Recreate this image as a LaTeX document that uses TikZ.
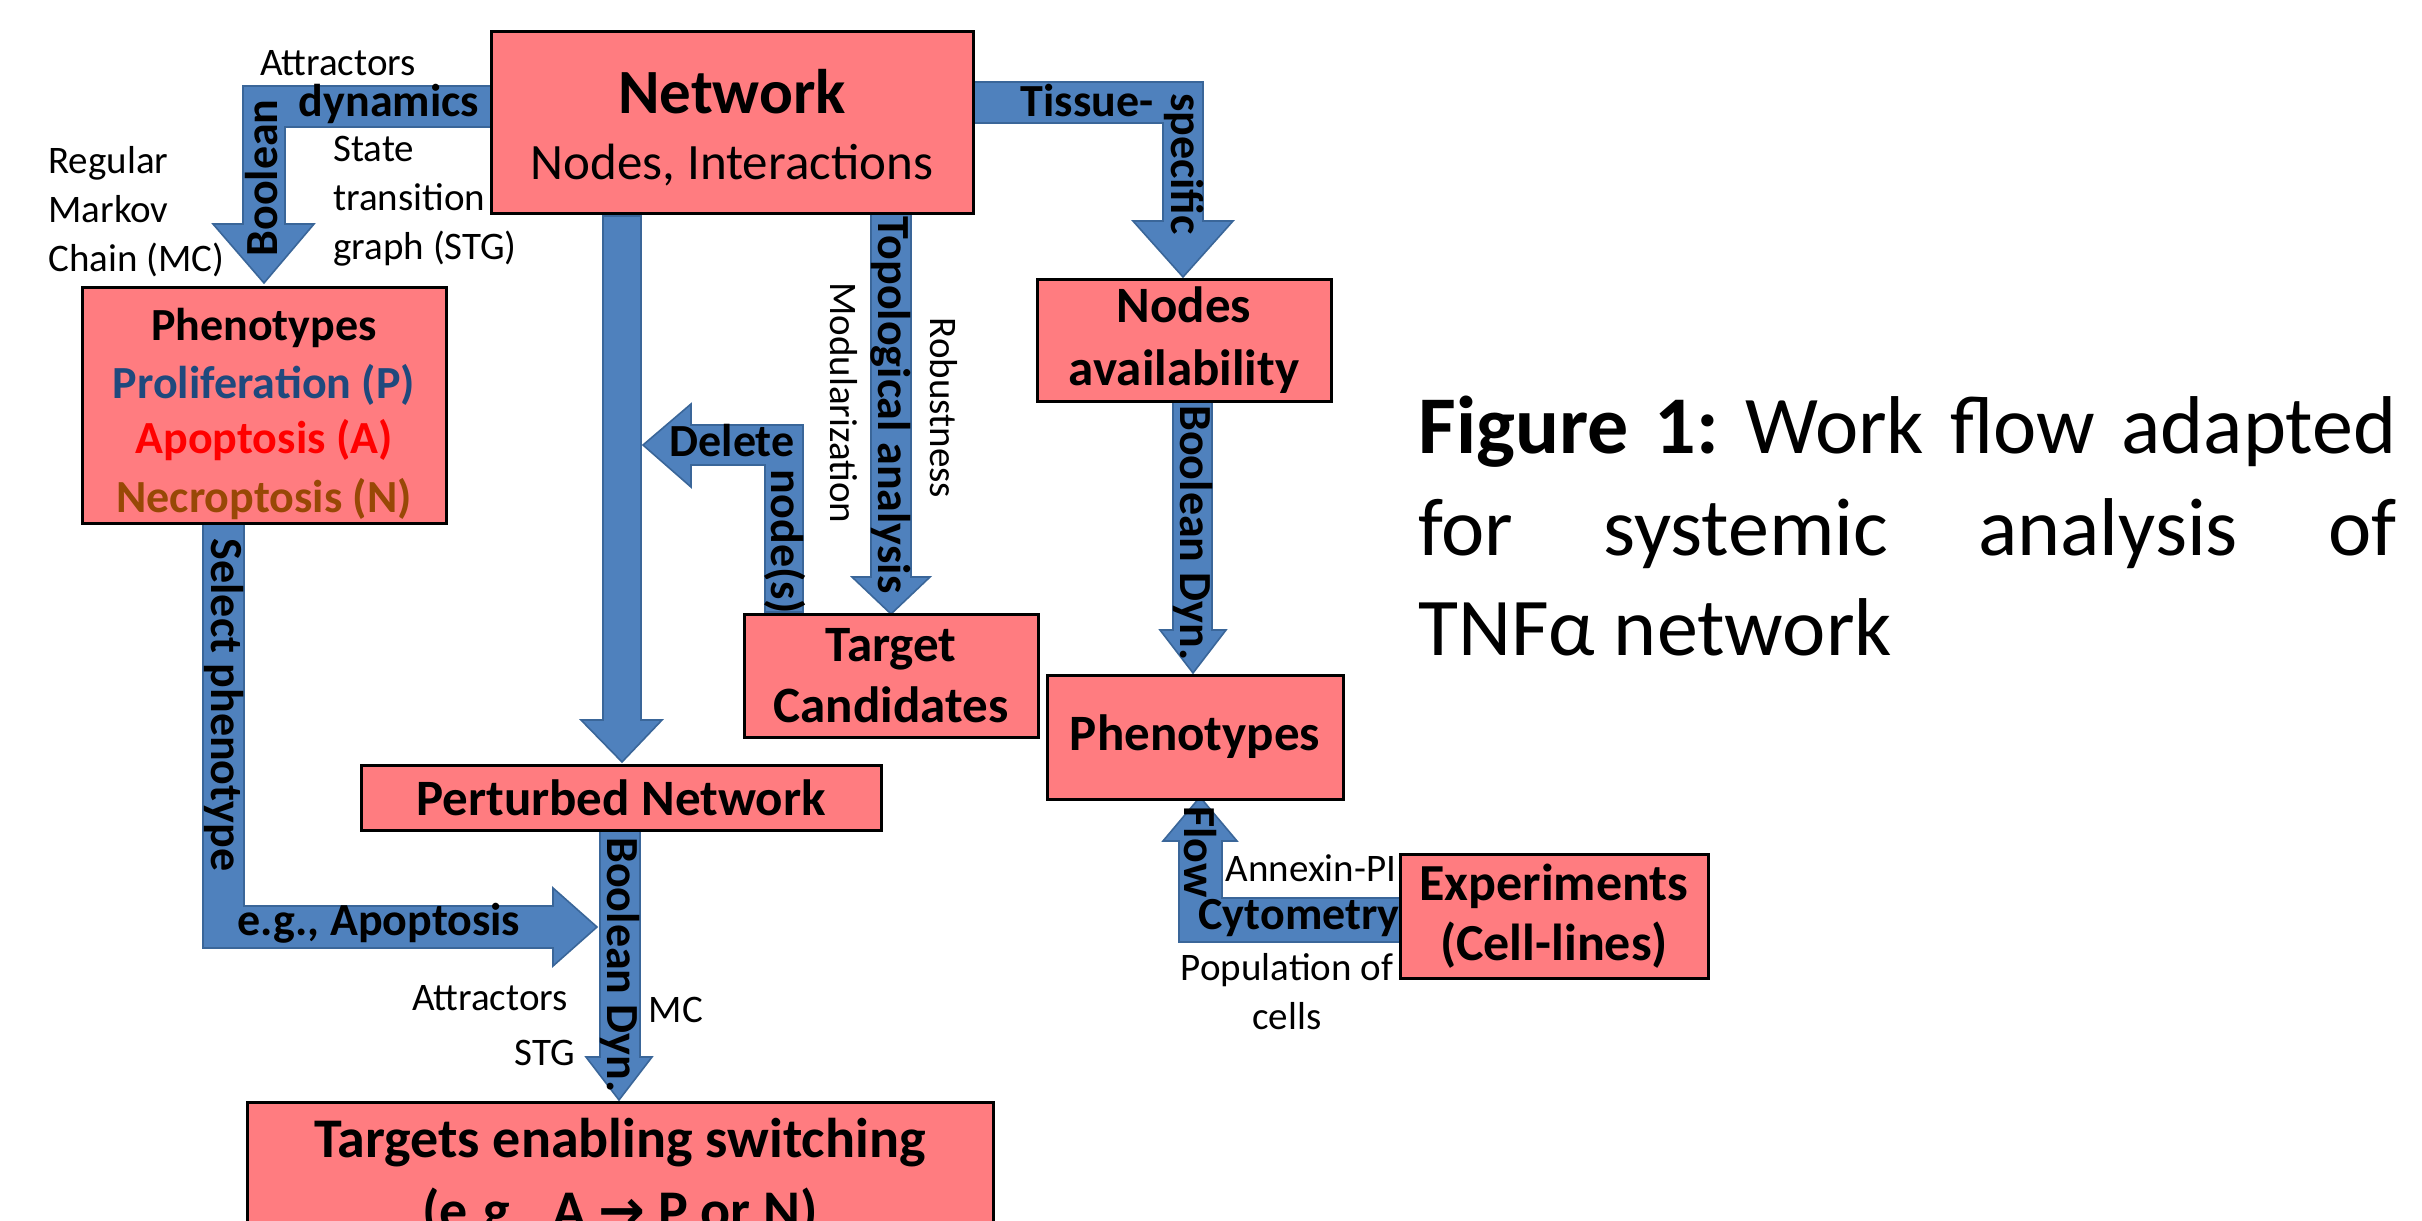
\documentclass[tikz,border=0pt]{standalone}
\usepackage{fontspec}
\setmainfont{Carlito}
\newfontfamily\djv{DejaVu Sans}
\definecolor{boxfill}{HTML}{FF7C80}
\definecolor{arrfill}{HTML}{4F81BD}
\definecolor{arrdraw}{HTML}{3A6699}
\definecolor{prolif}{HTML}{1F497D}
\definecolor{necro}{HTML}{984806}
\frenchspacing
\begin{document}
\begin{tikzpicture}[x=0.5pt,y=-0.5pt,
  box/.style={draw=black, line width=1.5pt, fill=boxfill, inner sep=0pt, outer sep=0pt, align=center, font=\fontsize{25.5}{31}\selectfont\bfseries},
  barrow/.style={fill=arrfill, draw=arrdraw, line width=0.8pt, line join=miter},
  lbl/.style={inner sep=0pt, font=\fontsize{19.5}{24.5}\selectfont},
  blbl/.style={inner sep=0pt, font=\fontsize{23}{28}\selectfont\bfseries},
  btxt/.style={inner sep=0pt, anchor=base},
]
\clip (0,0) rectangle (2422,1221);
\fill[white] (0,0) rectangle (2422,1221);

% ---------- block arrows ----------
% Boolean dynamics (Network -> Phenotypes)
\draw[barrow] (493,86) -- (243,86) -- (243,224) -- (213,224) -- (264,283) -- (314,224) -- (285,224) -- (285,127) -- (493,127) -- cycle;
% Tissue-specific (Network -> Nodes availability)
\draw[barrow] (971,82) -- (1203,82) -- (1203,221) -- (1233,221) -- (1183,277) -- (1133,221) -- (1163,221) -- (1163,123) -- (971,123) -- cycle;
% Network -> Perturbed Network
\draw[barrow] (603,216) -- (641,216) -- (641,720) -- (662,720) -- (622,762) -- (581,720) -- (603,720) -- cycle;
% Topological analysis (Network -> Target candidates)
\draw[barrow] (871,213) -- (911,213) -- (911,577) -- (930,577) -- (891,614) -- (852,577) -- (871,577) -- cycle;
% Delete node(s)
\draw[barrow] (803,612) -- (803,425) -- (691,425) -- (691,404) -- (643,445) -- (691,487) -- (691,465) -- (765,465) -- (765,612) -- cycle;
% Boolean Dyn. (Nodes availability -> Phenotypes)
\draw[barrow] (1173,401) -- (1212,401) -- (1212,630) -- (1226,630) -- (1193,673) -- (1160,630) -- (1173,630) -- cycle;
% Select phenotype
\draw[barrow] (203,521) -- (244,521) -- (244,906) -- (553,906) -- (553,888) -- (597,927) -- (553,966) -- (553,948) -- (203,948) -- cycle;
% Boolean Dyn. (Perturbed -> Targets)
\draw[barrow] (600,830) -- (640,830) -- (640,1057) -- (652,1057) -- (619,1100) -- (586,1057) -- (600,1057) -- cycle;
% Flow Cytometry
\draw[barrow] (1402,942) -- (1179,942) -- (1179,841) -- (1163,841) -- (1200,797) -- (1237,841) -- (1222,841) -- (1222,898) -- (1402,898) -- cycle;

% ---------- boxes ----------
\node[box, minimum width=241pt, minimum height=91pt] (net) at (732,122) {};
\node[btxt, font=\fontsize{31.5}{36}\selectfont\bfseries] (nett) at (732,113) {Network};
\node[btxt, font=\fontsize{25.5}{31}\selectfont] (netn) at (732,179) {Nodes, Interactions};

\node[box, minimum width=182pt, minimum height=118pt] (phl) at (264,405) {};
\node[btxt, font=\fontsize{23}{28}\selectfont\bfseries] (phl1) at (264,340) {Phenotypes};
\node[btxt, font=\fontsize{23}{28}\selectfont\bfseries, text=prolif] (phl2) at (264,398) {Proliferation (P)};
\node[btxt, font=\fontsize{23}{28}\selectfont\bfseries, text=red] (phl3) at (264,453) {Apoptosis (A)};
\node[btxt, font=\fontsize{23}{28}\selectfont\bfseries, text=necro] (phl4) at (264,512) {Necroptosis (N)};

\node[box, minimum width=147pt, minimum height=61pt, font=\fontsize{25.5}{31.5}\selectfont\bfseries] (avail) at (1184,340) {Nodes\\availability};
\node[box, minimum width=147pt, minimum height=61.5pt, font=\fontsize{25.5}{30.5}\selectfont\bfseries] (tc) at (891,675.5) {Target\\Candidates};
\node[box, minimum width=148pt, minimum height=62pt] (phr) at (1195,737) {Phenotypes};
\node[box, minimum width=260pt, minimum height=32.5pt] (pn) at (621,797.5) {Perturbed Network};
\node[box, minimum width=154pt, minimum height=62pt, font=\fontsize{26}{30}\selectfont\bfseries] (exp) at (1554,916) {Experiments\\(Cell-lines)};

\node[box, minimum width=373pt, minimum height=90pt, anchor=north] (tes) at (620,1102) {};
\node[btxt, font=\fontsize{28}{34}\selectfont\bfseries] (tes1) at (620,1157) {Targets enabling switching};
\node[btxt, font=\fontsize{28}{34}\selectfont\bfseries] (tes2) at (620,1229) {(e.g., A {\djv\bfseries →} P or N)};

% ---------- arrow labels ----------
\node[blbl] (ldyn) at (389,104) {dynamics};
\node[blbl, rotate=90] (lbool) at (262,178) {Boolean};
\node[blbl] (ltis) at (1087,101) {Tissue-};
\node[blbl, rotate=-90] (lspec) at (1184,164) {specific};
\node[blbl, rotate=-90] (ltopo) at (891,405) {Topological analysis};
\node[blbl] (ldel) at (732,441) {Delete};
\node[blbl, rotate=-90] (lnode) at (785,542) {node(s)};
\node[blbl, rotate=-90] (lbd1) at (1193,533) {Boolean Dyn.};
\node[blbl, rotate=-90] (lsel) at (224,705) {Select phenotype};
\node[blbl] (leg) at (379,923) {e.g., Apoptosis};
\node[blbl, rotate=-90] (lbd2) at (620,965) {Boolean Dyn.};
\node[blbl, rotate=-90] (lflow) at (1200,852) {Flow};
\node[blbl] (lcyt) at (1299,918) {Cytometry};

% ---------- side labels ----------
\node[lbl] (att1) at (338,63) {Attractors};
\node[lbl, anchor=west, align=left] (reg) at (48,212) {Regular\\Markov\\Chain (MC)};
\node[lbl, anchor=west, align=left] (stg) at (333,201) {State\\transition\\graph (STG)};
\node[lbl, rotate=-90] (rob) at (944,408) {Robustness};
\node[lbl, rotate=-90] (mod) at (844,403) {Modularization};
\node[lbl] (att2) at (490,998) {Attractors};
\node[lbl] (stg2) at (545,1053) {STG};
\node[lbl] (mc) at (676,1010) {MC};
\node[lbl] (annex) at (1311,868) {Annexin-PI};
\node[lbl, align=center] (pop) at (1287,992) {Population of\\cells};

% ---------- caption ----------
\node[btxt, anchor=base west, font=\fontsize{41}{50}\selectfont] (cap1) at (1418,453) {\makebox[489pt][s]{\textbf{Figure 1:} Work flow adapted}};
\node[btxt, anchor=base west, font=\fontsize{41}{50}\selectfont] (cap2) at (1418,555) {\makebox[489pt][s]{for systemic analysis of}};
\node[btxt, anchor=base west, font=\fontsize{41}{50}\selectfont] (cap3) at (1418,655) {TNFα network};
\end{tikzpicture}
\end{document}
